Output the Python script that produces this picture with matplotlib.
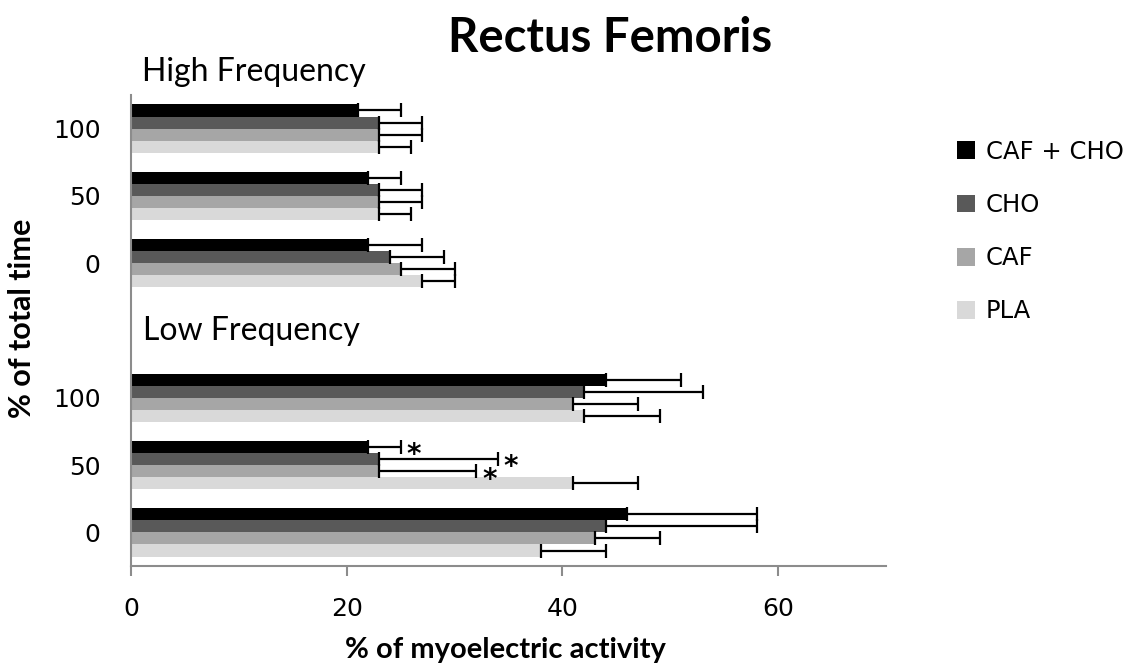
import matplotlib
matplotlib.use("Agg")
import matplotlib.pyplot as plt
import numpy as np

# ---- data ----
series = ["CAF + CHO", "CHO", "CAF", "PLA"]
colors = ["#000000", "#595959", "#a6a6a6", "#d9d9d9"]
tick_labels = ["100", "50", "0", "", "100", "50", "0"]
sections = ["High Frequency", "Low Frequency"]

# rows: High 100, High 50, High 0, Low 100, Low 50, Low 0
means = {
    "CAF + CHO": [21, 22, 22, 44, 22, 46],
    "CHO":       [23, 23, 24, 42, 23, 44],
    "CAF":       [23, 23, 25, 41, 23, 43],
    "PLA":       [23, 23, 27, 42, 41, 38],
}
upper = {
    "CAF + CHO": [25, 25, 27, 51, 25, 58],
    "CHO":       [27, 27, 29, 53, 34, 58],
    "CAF":       [27, 27, 30, 47, 32, 49],
    "PLA":       [26, 26, 30, 49, 47, 44],
}
# significance marks: (series, row index)
stars = [("CAF + CHO", 4), ("CHO", 4), ("CAF", 4)]

row_pos = np.array([0, 1, 2, 4, 5, 6])

fig = plt.figure(figsize=(11.29, 6.66), dpi=100)
ax = fig.add_axes([131/1129, 1-566/666, (886-131)/1129, (566-95)/666])

bh = 0.18
offsets = [-0.27, -0.09, 0.09, 0.27]
for s, c, off in zip(series, colors, offsets):
    m = np.array(means[s]); u = np.array(upper[s])
    ypos = row_pos + off
    ax.barh(ypos, m, height=bh, color=c, label=s, zorder=2)
    ax.errorbar(m, ypos, xerr=[np.zeros_like(m), u - m], fmt="none",
                ecolor="black", elinewidth=1.6, capsize=4.8, capthick=1.6, zorder=3)

for s, r in stars:
    i = series.index(s)
    ax.text(upper[s][r] + 0.55, row_pos[r] + offsets[i] + 0.125, "*",
            fontsize=20, fontweight="bold", ha="left", va="center", family="DejaVu Sans")

ax.set_xlim(0, 70)
ax.set_ylim(6.5, -0.5)
ax.set_yticks(range(7))
ax.set_yticklabels(tick_labels, fontsize=18, family="DejaVu Sans")
ax.set_xticks([0, 20, 40, 60])
ax.set_xticklabels(["0", "20", "40", "60"], fontsize=18, family="DejaVu Sans")
ax.tick_params(axis="y", length=0, pad=22)
ax.tick_params(axis="x", length=7, width=1.5, color="#8c8c8c", pad=15, direction="out")
for side in ["top", "right"]:
    ax.spines[side].set_visible(False)
for side in ["left", "bottom"]:
    ax.spines[side].set_color("#8c8c8c")
    ax.spines[side].set_linewidth(1.5)

fig.text(610/1129, 1-38/666, "Rectus Femoris", fontsize=34, fontweight="bold",
         family="Lato", ha="center", va="center")
fig.text(142/1129, 1-72/666, sections[0], fontsize=23, family="Lato", ha="left", va="center")
fig.text(143/1129, 1-331/666, sections[1], fontsize=23, family="Lato", ha="left", va="center")
fig.text(505/1129, 1-650/666, "% of myoelectric activity", fontsize=21, fontweight="bold",
         family="Lato", ha="center", va="center")
fig.text(22/1129, 1-318/666, "% of total time", fontsize=22, fontweight="bold",
         family="Lato", ha="center", va="center", rotation=90)

leg = fig.legend(loc="upper left", bbox_to_anchor=(935/1129, 1-118/666), frameon=False,
                 handlelength=0.75, handleheight=0.75, labelspacing=1.2,
                 handletextpad=0.45, prop={"family": "DejaVu Sans", "size": 17.5})

fig.savefig("out.png", dpi=100)
